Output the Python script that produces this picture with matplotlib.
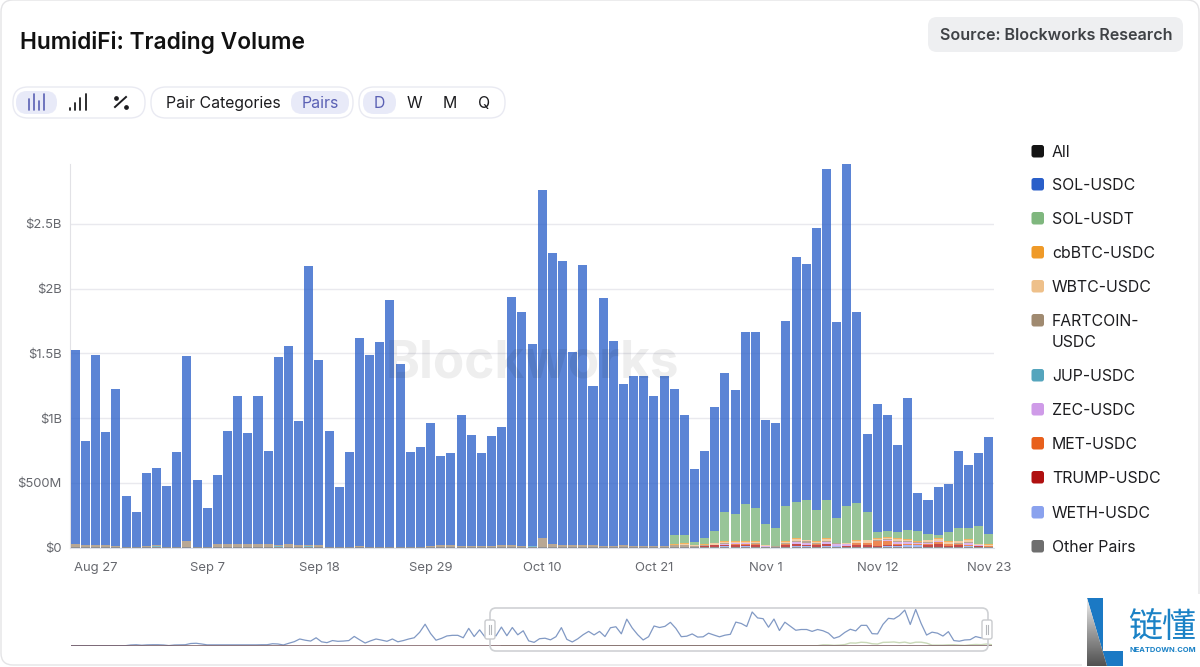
import numpy as np
import matplotlib
matplotlib.use("Agg")
import matplotlib.pyplot as plt
from matplotlib.patches import FancyBboxPatch, Polygon, Rectangle

W, H = 1200, 667
plt.rcParams['font.family'] = ['Inter', 'DejaVu Sans']

tick_labels = ["Aug 27", "Sep 7", "Sep 18", "Sep 29", "Oct 10", "Oct 21", "Nov 1", "Nov 12", "Nov 23"]
tick_index = [2, 13, 24, 35, 46, 57, 68, 79, 90]
y_ticks = [0, 0.5, 1, 1.5, 2, 2.5]
y_labels = ["$0", "$500M", "$1B", "$1.5B", "$2B", "$2.5B"]

# top of each whole stacked bar, $B
total = [1.525, .82, 1.49, .893, 1.223, .397, .274, .573, .614, .48,
         .738, 1.481, .521, .305, .563, .903, 1.172, .883, 1.172, .748,
         1.471, 1.554, .975, 2.175, 1.45, .903, .47, .738, 1.615, 1.49,
         1.585, 1.915, 1.42, .738, .78, .965, .707, .728, 1.027, .872,
         .728, .862, .934, 1.935, 1.822, 1.574, 2.763, 2.277, 2.215, 1.514,
         2.185, 1.245, 1.926, 1.596, 1.266, 1.328, 1.328, 1.173, 1.328, 1.225,
         1.028, .605, .75, 1.09, 1.348, 1.214, 1.668, 1.668, .987, .966,
         1.75, 2.245, 2.19, 2.47, 2.92, 1.74, 2.97, 1.823, .874, 1.11,
         1.028, .79, 1.152, .42, .37, .47, .495, .75, .64, .73, .853]

# top of the green SOL-USDT segment, Oct 23 onward is where it is visible
sol_usdt_top = [0] * 59 + [
    .098, .098, .046, .077, .129, .274, .263, .338, .307, .18, .15, .325, .356, .366, .294, .366,
    .232, .325, .346, .274, .121, .129, .121, .139, .129, .108, .098, .121, .15, .15, .17, .108]

cbbtc = [0] * 59 + [.002, .002, .002, .002, .002, .002, .006, .008, .006, .002, .002, .004, .008, .004, .004, .006,
                    .002, .002, .004, .004, .004, .008, .008, .004, .002, .004, .008, .004, .004, .01, .002, .008]
wbtc = [0] * 59 + [.004, .012, .004, .002, .012, .012, .006, .008, .008, .004, .002, .014, .018, .006, .014, .018,
                   .003, .006, .014, .018, .014, .008, .012, .012, .006, .012, .012, .012, .014, .012, .008, .006]
fartcoin = [.028, .014, .014, .014, .008, .004, .004, .008, .008, .004,
            .004, .045, .004, .004, .024, .024, .022, .024, .024, .024,
            .008, .018, .014, .008, .016, .002, .004, .002, .003, .002,
            .003, .002, .003, .006, .006, .006, .012, .012, .012, .006,
            .004, .005, .018, .018, .006, .006, .072, .03, .018, .018,
            .018, .018, .012, .012, .014, .008, .008, .008, .006,
            .012, .012, .008, .012, .004, .004, .004, .004, .004, .002, .002, .004, .006, .014, .004, .004,
            .002, .004, .004, .004, .004, .004, .006, .004, .002, .004, .004, .004, .004, .008, .004, .002]
jup = [0, .002, .002, .002, .006, .002, .002, 0, .008, .002,
       .002, .004, .002, 0, .002, .002, .004, .002, .002, 0,
       .008, .006, .002, .008, .002, .004, .002, .004, .006, .002,
       .002, .002, .002, 0, 0, .002, .004, .004, .002, .002,
       .006, .006, .002, .002, .006, .008, 0, 0, .002, 0,
       0, 0, .002, .002, .002, .002, .002, .002, .002] + [0] * 32
zec = [0] * 59 + [.002, .002, 0, 0, .002, .006, .003, .003, .002, .004, .002, .003, .012, .014, .003, .012,
                  .016, .012, .002, .002, .003, .014, .016, .012, .014, .012, .004, .002, .002, .014, .006, .002]
met = [0] * 59 + [0, 0, 0, 0, 0, 0, .008, .008, .004, 0, 0, .004, .004, .004, .006, .006,
                  0, .003, .012, .012, .035, .03, .012, .008, .003, .006, .02, .014, .008, .006, .002, .002]
trump = [0] * 59 + [0, 0, 0, .004, .012, .014, .014, .014, .016, 0, 0, .016, .012, .004, .014, .016,
                    .002, .004, .016, .016, .006, .004, .004, .004, .002, .014, .018, .006, .014, .006, .002, .002]
weth = [0] * 59 + [.004, .004, .004, .004, .004, .008, .006, .008, .006, .006, .004, .004, .012, .012, .004, .008,
                   .012, .006, .004, .004, .006, .012, .012, .018, .018, .006, .006, .004, .004, .008, .006, .004]
other = [.002] * 91

# overview strip: "All" line for the 79 days before the visible window
overview_before = [0, 0, 0, 0, 0, 0, 0, 0, 0, 0, 0,
                   .06, .08, .04, .07, .08, .08, .06, .01, .06, .07, .08, .18, .2, .14,
                   .07, .07, .07, .07, .07, .07, .07, .07, .07, .07, .08, .08, .16, .14, .06,
                   .2, .33, .55, .45, .38, .65, .32, .25, .42, .36, .38, .42, .76, .48, .22,
                   .4, .55, .46, .36, .55, .32, .42, .55, .65, 1.1, 1.76, 1.0, .45, .6, .8,
                   .85, .85, .65, 1.42, .75, 1.3, .7, 1.0, .8]

legend_names = ["All", "SOL-USDC", "SOL-USDT", "cbBTC-USDC", "WBTC-USDC", "FARTCOIN-\nUSDC",
                "JUP-USDC", "ZEC-USDC", "MET-USDC", "TRUMP-USDC", "WETH-USDC", "Other Pairs"]
legend_colors = ["#141414", "#2a5fc9", "#7fb77e", "#ef9a28", "#eec08a", "#a08a70",
                 "#55a5bd", "#cf9be8", "#e8601c", "#b01010", "#8aa2ee", "#6e6e6e"]
legend_y = [151, 184, 218, 252, 286, 320, 375, 409, 443, 477, 512, 546]

fig = plt.figure(figsize=(W / 100, H / 100), dpi=100, facecolor="white")


def axpx(l, t, r, b, **kw):
    return fig.add_axes([l / W, 1 - b / H, (r - l) / W, (b - t) / H], **kw)


ui = axpx(0, 0, W, H, zorder=0)
ui.set_xlim(0, W); ui.set_ylim(H, 0); ui.axis("off")


def rrect(ax, l, t, r, b, rad, fc="none", ec="none", lw=1, z=1):
    ax.add_patch(FancyBboxPatch((l, t), r - l, b - t, boxstyle=f"round,pad=0,rounding_size={rad}",
                                fc=fc, ec=ec, lw=lw, zorder=z))


rrect(ui, 1, 0, W - 1, H - 2, 12, fc="white", ec="#e4e4e6", lw=1)
ui.text(20, 42.5, "HumidiFi: Trading Volume", fontsize=16.4, fontweight="semibold", color="#111111", va="center")
rrect(ui, 928, 17, 1183, 52, 9, fc="#eeeff1")
ui.text(1056.5, 35, "Source: Blockworks Research", fontsize=11.6, fontweight="semibold", color="#3f4246",
        ha="center", va="center")

# toolbar
for l, r in [(13, 145), (151, 353), (359, 505)]:
    rrect(ui, l, 87, r, 118, 15, fc="white", ec="#e9eaf2", lw=1)
for l, r in [(16, 57), (291, 349), (363, 396)]:
    rrect(ui, l, 91, r, 114, 11, fc="#e8eaf8")
accent = "#5a60b4"
dark = "#1c1c1f"
for x, top in [(29, 99), (34, 94), (39, 101), (44, 94)]:
    ui.plot([x, x], [top, 110], color=accent, lw=1.2, zorder=2, solid_capstyle="round")
for x, top in [(70, 108), (75, 103), (80, 98), (86, 94)]:
    ui.plot([x, x], [top, 110], color=dark, lw=1.3, zorder=2, solid_capstyle="round")
ui.plot([115, 126], [107, 97], color=dark, lw=1.4, zorder=2)
ui.plot([116, 126], [98, 107], ls="none", marker="o", ms=2.4, color=dark, zorder=2)
for x, s, c in [(223, "Pair Categories", dark), (320, "Pairs", accent), (379.5, "D", accent),
                (414, "W", dark), (450, "M", dark), (484.5, "Q", dark)]:
    ui.text(x, 103.5, s, fontsize=11.4, color=c, ha="center", va="center", zorder=3)

# main chart
ax = axpx(70.2, 164, 994, 547.7, zorder=2)
ax.patch.set_alpha(0)
x = np.arange(len(total))
total_a = np.array(total)
lower = [other, weth, trump, met, zec, jup, fartcoin, wbtc, cbbtc]
lower_colors = ["#6e6e6e", "#8aa2ee", "#b01010", "#e8601c", "#cf9be8", "#55a5bd", "#a08a70", "#eec08a", "#ef9a28"]
base = np.zeros(len(total))
for vals, col in zip(lower, lower_colors):
    ax.bar(x, vals, bottom=base, width=0.89, color=col, alpha=0.75, lw=0, zorder=3)
    base = base + np.array(vals)
sol_usdt = np.clip(np.array(sol_usdt_top) - base, 0, None)
sol_usdt[np.array(sol_usdt_top) == 0] = 0
ax.bar(x, sol_usdt, bottom=base, width=0.89, color="#7fb77e", alpha=0.8, lw=0, zorder=3)
base = base + sol_usdt
ax.bar(x, total_a - base, bottom=base, width=0.89, color="#2a5fc9", alpha=0.77, lw=0, zorder=3)

ax.set_xlim(-0.5, 90.5)
ax.set_ylim(0, 2.962)
ax.set_yticks(y_ticks, y_labels)
ax.set_xticks(tick_index, tick_labels)
ax.grid(axis="y", color="#e9e9ee", lw=1, zorder=1)
ax.set_axisbelow(True)
for s in ["top", "right"]:
    ax.spines[s].set_visible(False)
ax.spines["left"].set_color("#e2e2e6")
ax.spines["bottom"].set_color("#dde0ea")
ax.tick_params(axis="both", length=0, labelcolor="#66686e", labelsize=9.4)
ax.tick_params(axis="y", pad=6)
ax.tick_params(axis="x", pad=10)
ax.text(0.5005, 0.48, "Blockworks", transform=ax.transAxes, fontsize=37,
        fontweight="bold", color="#000000", alpha=0.065, ha="center", va="center", zorder=5)

# legend
leg = axpx(0, 0, W, H, zorder=3)
leg.set_xlim(0, W); leg.set_ylim(H, 0); leg.axis("off")
for name, col, y in zip(legend_names, legend_colors, legend_y):
    rrect(leg, 1031.5, y - 6, 1044, y + 6.5, 2.5, fc=col)
    for k, line in enumerate(name.split("\n")):
        leg.text(1052, y + 1.5 + 21 * k, line, fontsize=11.4, color="#1d1d20", va="center")

# overview strip
ov = axpx(70.8, 606, 992, 645.7, zorder=2)
ov.patch.set_alpha(0)
all_line = overview_before + total
ox = np.arange(len(all_line)) - len(overview_before)
ov.plot(ox, all_line, color="#8199c4", lw=0.9, zorder=3)
ov.plot(x, sol_usdt, color="#c9d9b8", lw=1.0, zorder=2)
ov.plot(ox, np.zeros(len(ox)), color="#7a5c62", lw=1.1, zorder=4)
ov.set_xlim(ox[0], ox[-1])
ov.set_ylim(0, (645.7 - 606) / 12.2)
ov.axis("off")
rrect(leg, 490, 608, 988, 651, 6, fc="none", ec="#cfd1d4", lw=1.2, z=5)
for l in (485, 982):
    rrect(leg, l, 620, l + 10, 639, 2, fc="white", ec="#c9cbce", lw=1, z=6)
    leg.plot([l + 4, l + 4], [625, 634], color="#b5b7bb", lw=0.8, zorder=7)
    leg.plot([l + 6, l + 6], [625, 634], color="#b5b7bb", lw=0.8, zorder=7)

# logo
logo = axpx(0, 0, W, H, zorder=4)
logo.set_xlim(0, W); logo.set_ylim(H, 0); logo.axis("off")
logo.add_patch(Rectangle((1082, 594), 118, 73, fc="white", ec="none", zorder=1))
logo.add_patch(Polygon([(1087, 598), (1103, 598), (1103, 651), (1123, 651), (1123, 666), (1107, 666)],
                       closed=True, fc="#1b79c4", ec="none", zorder=2))
grad = np.linspace(0, 1, 64).reshape(-1, 1)
im = logo.imshow(grad, extent=(1087, 1108, 667, 598), cmap=matplotlib.colors.LinearSegmentedColormap.from_list(
    "g", ["#f0f0f0", "#9a9a9a", "#4f4f4f"]), aspect="auto", zorder=2)
im.set_clip_path(Polygon([(1087, 598), (1107, 666), (1087, 666)], closed=True, transform=logo.transData))
logo.set_xlim(0, W); logo.set_ylim(H, 0)
logo.text(1162, 627, "链懂", family=["Noto Sans CJK SC", "DejaVu Sans"], fontsize=24.5, fontweight="medium",
          color="#1b82c6", ha="center", va="center", zorder=3)
logo.text(1163, 650.5, "NEATDOWN.COM", fontsize=5.4, fontweight="bold", color="#1b82c6",
          ha="center", va="center", zorder=3)

fig.savefig("out.png", dpi=100)
